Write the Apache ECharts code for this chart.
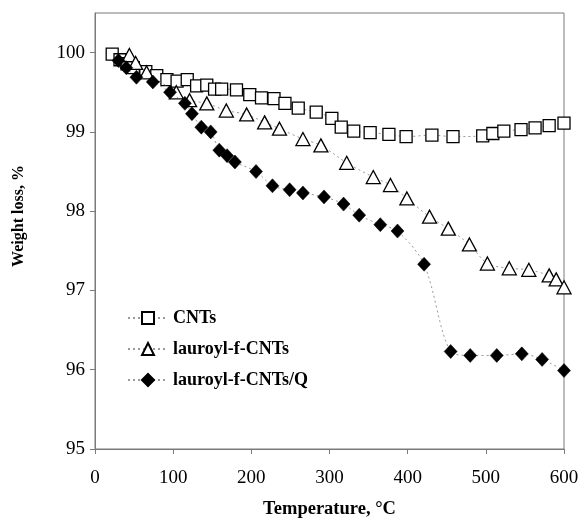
<!DOCTYPE html>
<html>
<head>
<meta charset="utf-8">
<script src="https://cdn.jsdelivr.net/npm/echarts@6/dist/echarts.min.js"></script>
<style>html,body{margin:0;padding:0;background:#fff}#c{width:580px;height:520px}</style>
</head>
<body>
<div id="c"></div>
<script>
var cntsT = [22, 32, 41, 49, 65, 79, 92, 105, 118, 130, 143, 153, 162, 181, 198, 213, 229, 243, 260, 283, 303, 315, 331, 352, 376, 398, 431, 458, 496, 509, 523, 545, 563, 581, 600];
var cntsW = [99.98, 99.91, 99.86, 99.81, 99.76, 99.71, 99.66, 99.64, 99.66, 99.58, 99.59, 99.54, 99.54, 99.53, 99.47, 99.43, 99.42, 99.36, 99.30, 99.25, 99.17, 99.06, 99.01, 98.99, 98.97, 98.94, 98.96, 98.94, 98.95, 98.98, 99.01, 99.03, 99.05, 99.08, 99.11];
var lauT = [44, 52, 66, 104, 121, 143, 168, 194, 217, 236, 266, 289, 322, 356, 378, 399, 428, 452, 479, 502, 530, 555, 581, 590, 600];
var lauW = [99.97, 99.87, 99.75, 99.50, 99.40, 99.36, 99.27, 99.22, 99.12, 99.04, 98.91, 98.83, 98.61, 98.43, 98.33, 98.16, 97.93, 97.78, 97.58, 97.34, 97.28, 97.26, 97.19, 97.14, 97.04];
var lauQT = [30, 40, 53, 74, 96, 115, 124, 136, 148, 159, 169, 179, 206, 227, 249, 266, 293, 318, 338, 365, 387, 421, 455, 480, 514, 546, 572, 600];
var lauQW = [99.90, 99.81, 99.69, 99.63, 99.50, 99.36, 99.23, 99.06, 99.00, 98.77, 98.70, 98.62, 98.50, 98.32, 98.27, 98.23, 98.18, 98.09, 97.95, 97.83, 97.75, 97.33, 96.23, 96.18, 96.18, 96.20, 96.13, 95.99];
var seriesNames = ['CNTs', 'lauroyl-f-CNTs', 'lauroyl-f-CNTs/Q'];
var xTicks = [0, 100, 200, 300, 400, 500, 600];
var yTicks = [95, 96, 97, 98, 99, 100];
var xTitle = 'Temperature, °C';
var yTitle = 'Weight loss, %';

function pairs(a, b) { return a.map(function (v, i) { return [v, b[i]]; }); }

var FONT = "'Liberation Serif', 'Times New Roman', serif";
var AX = '#7a7a7a';
var lineSt = { color: '#9a9a9a', width: 1, type: [2, 3] };

var chart = echarts.init(document.getElementById('c'));
chart.setOption({
  animation: false,
  backgroundColor: '#fff',
  grid: { left: 95, right: 16, top: 13, bottom: 71, containLabel: false, outerBoundsMode: 'none', show: true, borderColor: AX, borderWidth: 1, backgroundColor: 'transparent' },
  xAxis: {
    type: 'value', min: 0, max: 600, interval: 100,
    name: xTitle, nameLocation: 'middle', nameGap: 51,
    nameTextStyle: { fontFamily: FONT, fontWeight: 'bold', fontSize: 18.5, color: '#000' },
    axisLine: { show: true, lineStyle: { color: AX, width: 1 } },
    axisTick: { show: true, length: 5, lineStyle: { color: AX }, customValues: xTicks },
    axisLabel: { fontFamily: FONT, fontSize: 19, color: '#000', margin: 20, customValues: xTicks },
    splitLine: { show: false }
  },
  yAxis: {
    type: 'value', min: 95, max: 100.5,
    axisLine: { show: true, lineStyle: { color: AX, width: 1 } },
    axisTick: { show: true, length: 5, lineStyle: { color: AX }, customValues: yTicks },
    axisLabel: { fontFamily: FONT, fontSize: 19, color: '#000', margin: 10, customValues: yTicks },
    splitLine: { show: false }
  },
  legend: {
    orient: 'vertical', left: 122, top: 304, itemWidth: 40, itemHeight: 15, itemGap: 13,
    data: seriesNames,
    textStyle: { fontFamily: FONT, fontWeight: 'bold', fontSize: 18, color: '#000' }
  },
  graphic: [{
    type: 'text', x: 19, y: 216, rotation: Math.PI / 2,
    style: { text: yTitle, font: "bold 16px 'Liberation Serif', serif", fill: '#000', align: 'center', verticalAlign: 'middle' }
  }],
  series: [
    {
      name: seriesNames[0], type: 'line', data: pairs(cntsT, cntsW), smooth: 0.3,
      symbol: 'rect', symbolSize: 12,
      itemStyle: { color: '#fff', borderColor: '#000', borderWidth: 1.3 },
      lineStyle: lineSt, z: 2
    },
    {
      name: seriesNames[1], type: 'line', data: pairs(lauT, lauW), smooth: 0.3,
      symbol: 'triangle', symbolSize: [14, 13],
      itemStyle: { color: '#fff', borderColor: '#000', borderWidth: 1.3 },
      lineStyle: lineSt, z: 3
    },
    {
      name: seriesNames[2], type: 'line', data: pairs(lauQT, lauQW), smooth: 0.3,
      symbol: 'diamond', symbolSize: [13, 14],
      itemStyle: { color: '#000', borderColor: '#000', borderWidth: 0.5 },
      lineStyle: lineSt, z: 4
    }
  ]
});
</script>
</body>
</html>
